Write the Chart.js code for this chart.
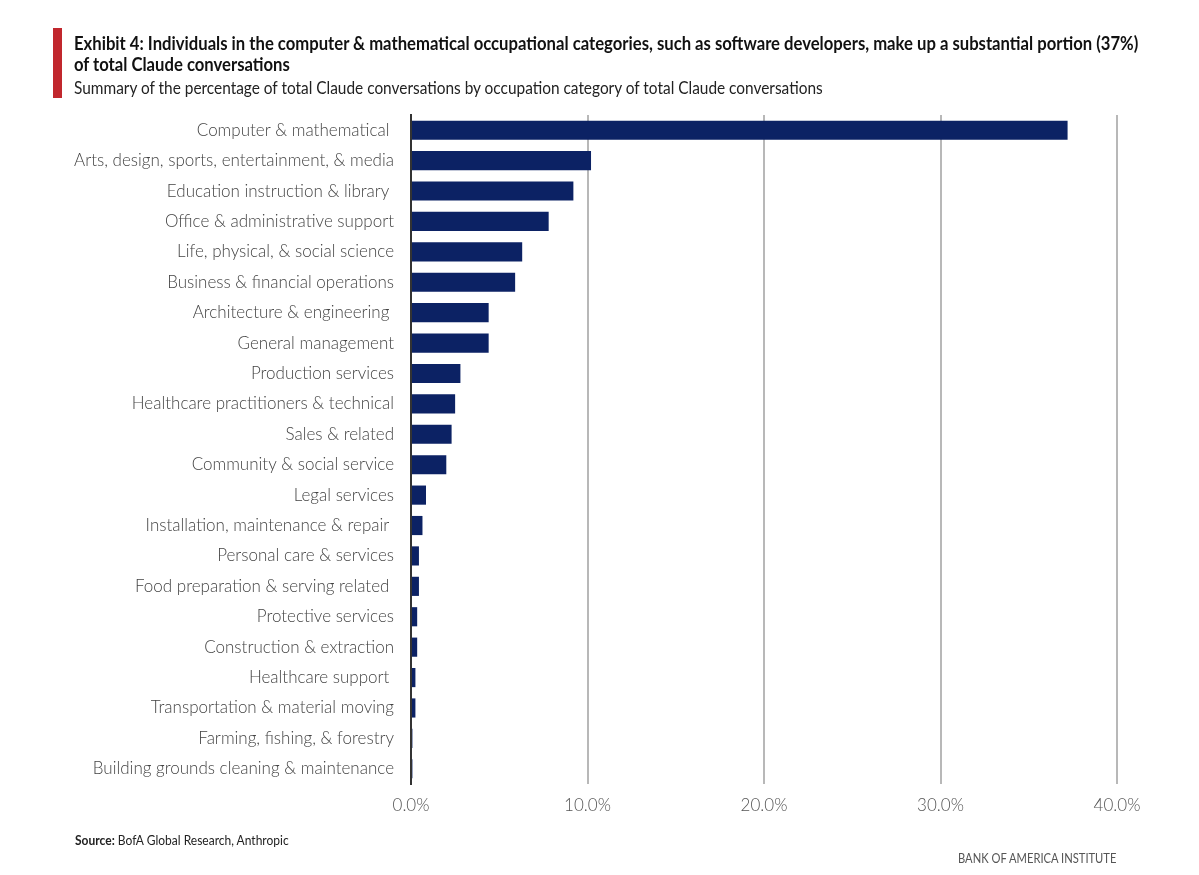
<!DOCTYPE html>
<html>
<head>
<meta charset="utf-8">
<title>Exhibit 4</title>
<script src="https://cdn.jsdelivr.net/npm/chart.js"></script>
<style>
  html, body { margin: 0; padding: 0; background: #fff; }
  body { width: 1199px; height: 875px; position: relative; overflow: hidden; font-family: Lato, "Open Sans", sans-serif; }
  #wrap { position: absolute; left: 0; top: 0; width: 1199px; height: 875px; }
  .bar { position: absolute; left: 53px; top: 28px; width: 9px; height: 70px; background: #c1272d; }
  .title { position: absolute; left: 74px; top: 32px; font-size: 19px; font-weight: 700; color: #111; line-height: 21px; white-space: nowrap; transform: scaleX(0.877); transform-origin: left top; }
  .sub { position: absolute; left: 74px; top: 76px; font-size: 18px; color: #222; white-space: nowrap; transform: scaleX(0.856); transform-origin: left top; }
  .src { position: absolute; left: 75px; top: 832px; font-size: 13.5px; color: #222; white-space: nowrap; transform: scaleX(0.89); transform-origin: left top; }
  .brand { position: absolute; left: 958px; top: 850px; font-size: 13px; color: #555; white-space: nowrap; transform: scaleX(0.86); transform-origin: left top; }
</style>
</head>
<body>
<div id="wrap"><canvas id="occChart"></canvas></div>
<div class="bar"></div>
<div class="title">Exhibit 4: Individuals in the computer &amp; mathematical occupational categories, such as software developers, make up a substantial portion (37%)<br>of total Claude conversations</div>
<div class="sub">Summary of the percentage of total Claude conversations by occupation category of total Claude conversations</div>
<div class="src"><b>Source:</b> BofA Global Research, Anthropic</div>
<div class="brand">BANK OF AMERICA INSTITUTE</div>
<script>
const categories = [
  'Computer & mathematical ',
  'Arts, design, sports, entertainment, & media',
  'Education instruction & library ',
  'Office & administrative support',
  'Life, physical, & social science',
  'Business & financial operations',
  'Architecture & engineering ',
  'General management',
  'Production services',
  'Healthcare practitioners & technical',
  'Sales & related',
  'Community & social service',
  'Legal services',
  'Installation, maintenance & repair ',
  'Personal care & services',
  'Food preparation & serving related ',
  'Protective services',
  'Construction & extraction',
  'Healthcare support ',
  'Transportation & material moving',
  'Farming, fishing, & forestry',
  'Building grounds cleaning & maintenance'
];
const shares = [37.2, 10.2, 9.2, 7.8, 6.3, 5.9, 4.4, 4.4, 2.8, 2.5, 2.3, 2.0, 0.85, 0.65, 0.45, 0.45, 0.35, 0.35, 0.25, 0.25, 0.08, 0.08];
const xTicks = [0, 10, 20, 30, 40];

const ctx = document.getElementById('occChart').getContext('2d');
new Chart(ctx, {
  type: 'bar',
  data: {
    labels: categories,
    datasets: [{
      data: shares,
      backgroundColor: '#0c2264',
      borderWidth: 0,
      barPercentage: 0.63,
      categoryPercentage: 1
    }]
  },
  options: {
    indexAxis: 'y',
    responsive: true,
    maintainAspectRatio: false,
    animation: false,
    layout: { padding: { top: 115, right: 82, bottom: 51, left: 0 } },
    plugins: { legend: { display: false }, tooltip: { enabled: false } },
    scales: {
      x: {
        min: 0,
        max: 40,
        afterBuildTicks: function(scale) { scale.ticks = xTicks.map(v => ({ value: v })); },
        afterFit: function(scale) { scale.height = 40; },
        grid: { color: '#b8b8b8', lineWidth: 2, drawTicks: false },
        border: { display: false },
        ticks: {
          padding: 11,
          color: '#555',
          font: { family: 'Lato', size: 17, weight: 300 },
          callback: function(v) { return Number(v).toFixed(1) + '%'; }
        }
      },
      y: {
        afterFit: function(scale) { scale.width = 411; },
        grid: { display: false, drawTicks: false },
        border: { display: true, color: '#333', width: 2 },
        ticks: {
          padding: 17,
          color: '#444',
          font: { family: 'Lato', size: 17, weight: 300 },
          autoSkip: false
        }
      }
    }
  }
});
</script>
</body>
</html>
